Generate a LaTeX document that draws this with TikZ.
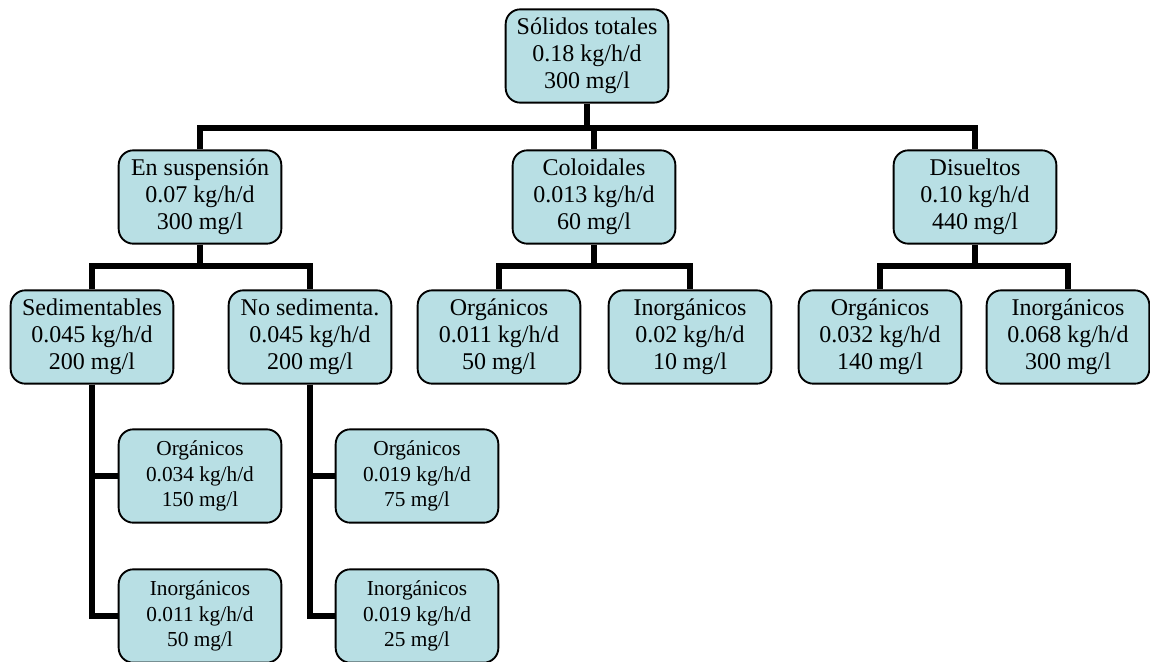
\documentclass[tikz,border=0pt]{standalone}
\usepackage{fontspec}
\setmainfont{Liberation Serif}
\usepackage{tikz}
\usetikzlibrary{calc}

\definecolor{boxfill}{RGB}{184,223,228}

\begin{document}
\begin{tikzpicture}[x=0.75pt,y=-0.75pt,
  solid/.style={draw=black,line width=1.4pt,fill=boxfill,rounded corners=11pt,
    minimum width=122pt,minimum height=70pt,align=center,inner sep=0pt,
    font=\fontsize{18}{20.3}\selectfont},
  subsolid/.style={solid,font=\fontsize{16}{19}\selectfont},
  link/.style={line width=3.8pt}]
  \useasboundingbox (0,0) rectangle (1150,661);

  \node[solid] (tot) at (587,56) {Sólidos totales\\0.18 kg/h/d\\300 mg/l};

  \node[solid] (susp) at (200,197) {En suspensión\\0.07 kg/h/d\\300 mg/l};
  \node[solid] (col) at (594,197) {Coloidales\\0.013 kg/h/d\\60 mg/l};
  \node[solid] (dis) at (975,197) {Disueltos\\0.10 kg/h/d\\440 mg/l};

  \node[solid] (sed) at (92,337) {Sedimentables\\0.045 kg/h/d\\200 mg/l};
  \node[solid] (nosed) at (310,337) {No sedimenta.\\0.045 kg/h/d\\200 mg/l};
  \node[solid] (corg) at (499,337) {Orgánicos\\0.011 kg/h/d\\50 mg/l};
  \node[solid] (cinorg) at (690,337) {Inorgánicos\\0.02 kg/h/d\\10 mg/l};
  \node[solid] (dorg) at (880,337) {Orgánicos\\0.032 kg/h/d\\140 mg/l};
  \node[solid] (dinorg) at (1068,337) {Inorgánicos\\0.068 kg/h/d\\300 mg/l};

  \node[subsolid] (sorg) at (200,476) {Orgánicos\\0.034 kg/h/d\\150 mg/l};
  \node[subsolid] (sinorg) at (200,616) {Inorgánicos\\0.011 kg/h/d\\50 mg/l};
  \node[subsolid] (norg) at (417,476) {Orgánicos\\0.019 kg/h/d\\75 mg/l};
  \node[subsolid] (ninorg) at (417,616) {Inorgánicos\\0.019 kg/h/d\\25 mg/l};

  % junctions of the bars
  \coordinate (j0) at (587,128);
  \coordinate (j1) at (200,266);
  \coordinate (j2) at (594,266);
  \coordinate (j3) at (975,266);

  \draw[link] (tot.south) -- (j0);
  \draw[link] (susp.north) |- (j0) -| (dis.north);
  \draw[link] (col.north) -- (col.north|-j0);

  \draw[link] (susp.south) -- (j1);
  \draw[link] (sed.north) |- (j1) -| (nosed.north);
  \draw[link] (col.south) -- (j2);
  \draw[link] (corg.north) |- (j2) -| (cinorg.north);
  \draw[link] (dis.south) -- (j3);
  \draw[link] (dorg.north) |- (j3) -| (dinorg.north);

  \draw[link] (sed.south) |- (sorg.west);
  \draw[link] (sed.south) |- (sinorg.west);
  \draw[link] (nosed.south) |- (norg.west);
  \draw[link] (nosed.south) |- (ninorg.west);
\end{tikzpicture}
\end{document}
